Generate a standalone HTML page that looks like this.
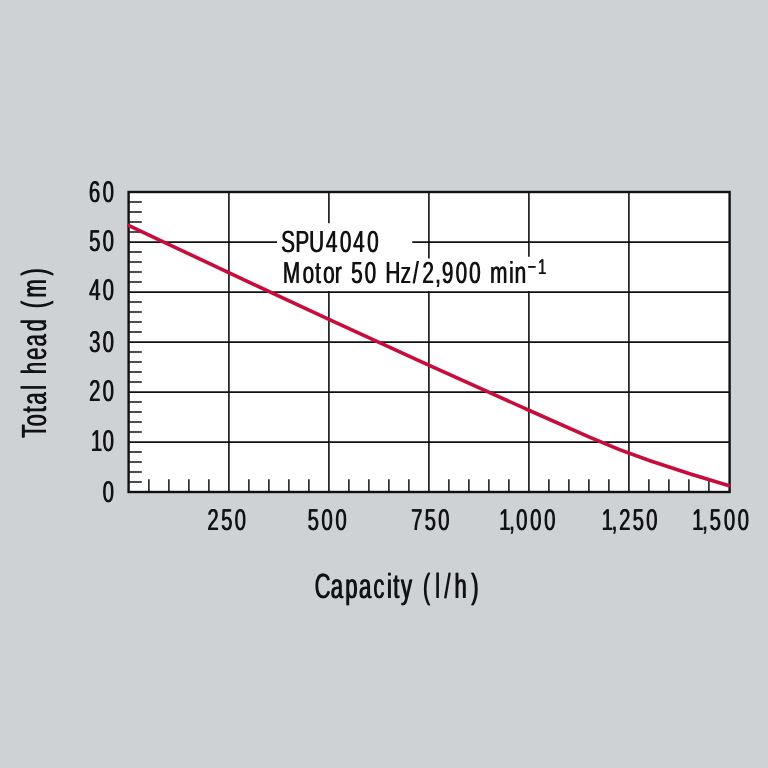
<!DOCTYPE html>
<html lang="en">
<head>
<meta charset="utf-8">
<title>SPU4040 performance curve</title>
<style>
html,body{margin:0;padding:0;background:#ced2d5;}
body{width:768px;height:768px;overflow:hidden;}
svg{display:block;}
text{font-family:"Liberation Sans",sans-serif;fill:#121214;text-rendering:geometricPrecision;text-shadow:1.1px 0 0 #121214;}
text.t{text-shadow:1.4px 0 0 #121214;}
</style>
</head>
<body>
<svg width="768" height="768" viewBox="0 0 768 768">
<rect width="768" height="768" fill="#ced2d5"/>
<rect x="128.6" y="192.0" width="601" height="300" fill="#fff"/>
<path d="M128.6 242.1H729.6M128.6 292.1H729.6M128.6 342.1H729.6M128.6 392.1H729.6M128.6 442.1H729.6M228.9 192.0V492.0M328.9 192.0V492.0M428.9 192.0V492.0M528.9 192.0V492.0M628.9 192.0V492.0" stroke="#121214" stroke-width="1.6" fill="none"/>
<path d="M128.6 202.1H141.8M128.6 212.1H141.8M128.6 222.1H141.8M128.6 232.1H141.8M128.6 252.1H141.8M128.6 262.1H141.8M128.6 272.1H141.8M128.6 282.1H141.8M128.6 302.1H141.8M128.6 312.1H141.8M128.6 322.1H141.8M128.6 332.1H141.8M128.6 352.1H141.8M128.6 362.1H141.8M128.6 372.1H141.8M128.6 382.1H141.8M128.6 402.1H141.8M128.6 412.1H141.8M128.6 422.1H141.8M128.6 432.1H141.8M128.6 452.1H141.8M128.6 462.1H141.8M128.6 472.1H141.8M128.6 482.1H141.8M148.9 492.0V479.2M168.9 492.0V479.2M188.9 492.0V479.2M208.9 492.0V479.2M248.9 492.0V479.2M268.9 492.0V479.2M288.9 492.0V479.2M308.9 492.0V479.2M348.9 492.0V479.2M368.9 492.0V479.2M388.9 492.0V479.2M408.9 492.0V479.2M448.9 492.0V479.2M468.9 492.0V479.2M488.9 492.0V479.2M508.9 492.0V479.2M548.9 492.0V479.2M568.9 492.0V479.2M588.9 492.0V479.2M608.9 492.0V479.2M648.9 492.0V479.2M668.9 492.0V479.2M688.9 492.0V479.2M708.9 492.0V479.2" stroke="#121214" stroke-width="1.5" fill="none"/>
<path d="M277 223.3H412.3V258.5H527V256.8H548V290.9H277Z" fill="#fff"/>
<rect x="128.6" y="192.0" width="601" height="300" fill="none" stroke="#121214" stroke-width="2.4"/>
<path d="M127.7 224.87L128 225.01Q229 273.09 330 319.81Q430 366.07 530 410.74Q560 424.14 590 437.35Q620 450.56 650 460.76Q690 474.36 730 485.98" stroke="#c60d3b" stroke-width="3.6" fill="none"/>
<text transform="translate(88.58 202.4) scale(0.68 1)" font-size="30" x="0 20.25" y="0">60</text>
<text transform="translate(88.67 251.4) scale(0.68 1)" font-size="30" x="0 20.12" y="0">50</text>
<text transform="translate(88.72 300.3) scale(0.68 1)" font-size="30" x="0 20.05" y="0">40</text>
<text transform="translate(88.71 351.6) scale(0.68 1)" font-size="30" x="0 20.06" y="0">30</text>
<text transform="translate(88.65 400.95) scale(0.68 1)" font-size="30" x="0 20.15" y="0">20</text>
<text transform="translate(90.58 450.7) scale(0.68 1)" font-size="30" x="0 17.32" y="0">10</text>
<text transform="translate(102.35 501.5) scale(0.68 1)" font-size="30" x="0" y="0">0</text>
<text transform="translate(207.05 530) scale(0.68 1)" font-size="30" x="0 20.18 39.93" y="0">250</text>
<text transform="translate(307.27 530) scale(0.68 1)" font-size="30" x="0 20.26 40.71" y="0">500</text>
<text transform="translate(410.64 530) scale(0.68 1)" font-size="30" x="0 19.9 39.83" y="0">750</text>
<text transform="translate(498.73 530) scale(0.68 1)" font-size="30" x="0 14.58 25.04 45.62 66.36" y="0">1,000</text>
<text transform="translate(601.23 530) scale(0.68 1)" font-size="30" x="0 14.73 25.92 45.8 65.4" y="0">1,250</text>
<text transform="translate(691.73 530) scale(0.68 1)" font-size="30" x="0 14.8 25.95 46.65 66.87" y="0">1,500</text>
<text class="t" transform="translate(314.23 597.5) scale(0.63 1)" font-size="35" x="0 25.44 48.65 70.36 93.23 114.81 124.77 137.04 157.34 171.8 191.27 205.97 221.98 248.65" y="0">Capacity (l/h)</text>
<text class="t" transform="translate(46.45 438.32) rotate(-90) scale(0.63 1)" font-size="35" x="0 18.33 40.36 52.82 76.23 86.73 101.11 123.76 145.32 169.08 191.45 206.01 222.6 257.54" y="0">Total head (m)</text>
<text transform="translate(280.81 251.7) scale(0.68 1)" font-size="30.5" x="0 20.94 40.99 65.64 86.28 105.86 126.39" y="0">SPU4040</text>
<text transform="translate(282.61 282.8) scale(0.68 1)" font-size="30.5" x="0 28.74 47.28 58.96 76.31 84.88 100.24 119.92 135.23 150.54 172.9 191.19 204.92 223.87 233.83 253.74 273.71 289.26 304.81 332.45 340.78" y="0">Motor 50 Hz/2,900 min<tspan font-size="21.5" x="359.69 375.26" y="-8.5">−1</tspan></text>
</svg>
</body>
</html>
